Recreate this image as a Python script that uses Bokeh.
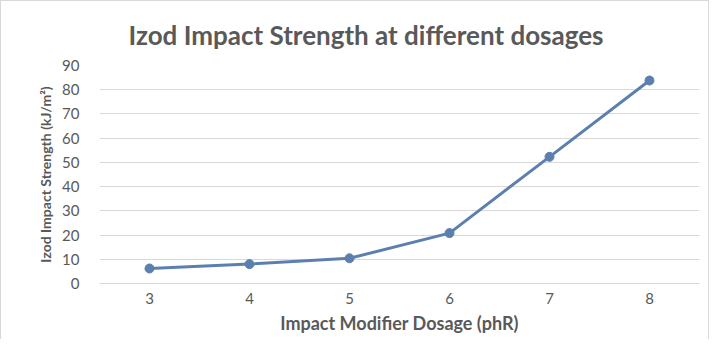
from bokeh.plotting import figure
from bokeh.models import Range1d, FixedTicker, Title
from bokeh.embed import file_html
from bokeh.resources import INLINE

dosage = [3, 4, 5, 6, 7, 8]
strength = [6.2, 8.0, 10.4, 20.8, 52.3, 83.8]
y_ticks = [0, 10, 20, 30, 40, 50, 60, 70, 80, 90]

GREY = "#595959"
LINE = "#5b80b0"
FONT = "Lato"

p = figure(width=709, height=339, output_backend="svg", toolbar_location=None,
           x_range=Range1d(2.5, 8.5), y_range=Range1d(0, 90),
           min_border_left=98, min_border_right=11, min_border_top=64, min_border_bottom=57)
p.styles = {"border-left": "1px solid #d9d9d9", "border-top": "1px solid #d9d9d9",
            "border-right": "1px solid #d9d9d9"}

p.line(dosage, strength, line_color=LINE, line_width=3)
p.scatter(dosage, strength, size=9, fill_color=LINE, line_color=LINE)

t = Title(text="Izod Impact Strength at different dosages", align="left", offset=29,
          text_font=FONT, text_font_size="26px", text_font_style="bold",
          text_color=GREY, standoff=29)
p.add_layout(t, "above")

p.outline_line_color = None
p.background_fill_color = "white"
p.border_fill_color = "white"

p.xaxis.ticker = FixedTicker(ticks=dosage)
p.yaxis.ticker = FixedTicker(ticks=y_ticks)
p.xgrid.grid_line_color = None
p.ygrid.grid_line_color = "#d9d9d9"
p.ygrid.grid_line_width = 1

for ax in (p.xaxis[0], p.yaxis[0]):
    ax.major_tick_line_color = None
    ax.minor_tick_line_color = None
    ax.major_label_text_font = FONT
    ax.major_label_text_font_size = "15px"
    ax.major_label_text_color = GREY
    ax.axis_label_text_font = FONT
    ax.axis_label_text_font_style = "bold"
    ax.axis_label_text_color = GREY

p.xaxis.axis_label_text_font_size = "18px"
p.yaxis.axis_label_text_font_size = "14px"
p.yaxis.axis_line_color = None
p.xaxis.axis_line_color = "#d9d9d9"
p.yaxis.major_label_standoff = 14
p.xaxis.major_label_standoff = 3
p.xaxis.axis_label = "Impact Modifier Dosage (phR)"
p.yaxis.axis_label = "Izod Impact Strength (kJ/m²)"
p.xaxis.axis_label_standoff = 5
p.yaxis.axis_label_standoff = 5

open("out.html", "w").write(file_html(p, INLINE))
